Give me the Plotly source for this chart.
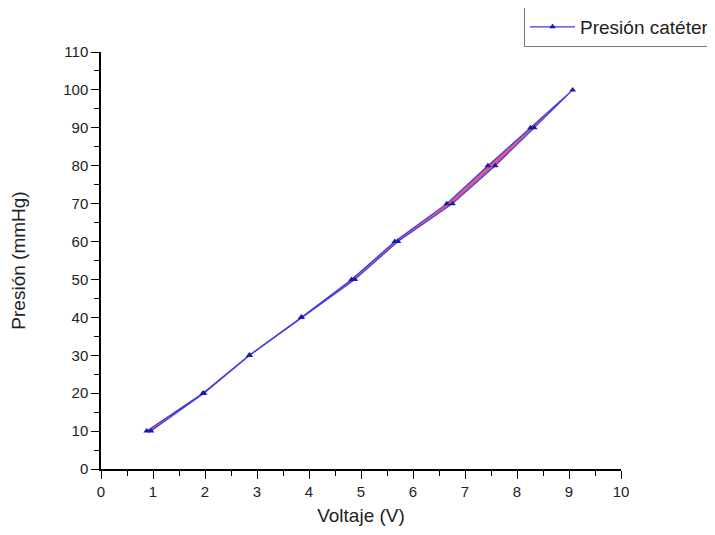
import plotly.graph_objects as go

# Data (loading / unloading path)
volt_up = [0.88, 1.96, 2.85, 3.85, 4.82, 5.65, 6.65, 7.44, 8.26, 9.07]
pres_up = [10, 20, 30, 40, 50, 60, 70, 80, 90, 100]
volt_down = [8.33, 7.58, 6.76, 5.71, 4.88, 3.86, 2.86, 1.98, 0.96]
pres_down = [90, 80, 70, 60, 50, 40, 30, 20, 10]

x_all = volt_up + volt_down
y_all = pres_up + pres_down

series_name = "Presión catéter"
x_title = "Voltaje (V)"
y_title = "Presión (mmHg)"

FONT = "Arial, 'Liberation Sans', sans-serif"

fig = go.Figure()

# red fill between the two paths
fig.add_trace(go.Scatter(
    x=x_all, y=y_all, mode="none", fill="toself",
    fillcolor="rgba(214,72,120,0.9)", showlegend=False, hoverinfo="skip",
))

# blue line with triangle markers
fig.add_trace(go.Scatter(
    x=x_all, y=y_all, mode="lines+markers", name=series_name,
    line=dict(color="rgb(60,60,225)", width=1.2),
    marker=dict(symbol="triangle-up", size=6, color="rgb(25,25,175)"),
))

axis_common = dict(
    showline=True, linecolor="black", linewidth=1.5,
    ticks="outside", ticklen=8, tickwidth=1.3, tickcolor="black",
    showgrid=False, zeroline=False, mirror=False,
    tickfont=dict(family=FONT, size=15, color="#222"),
)

fig.update_xaxes(
    range=[0, 10], dtick=1, tick0=0,
    minor=dict(dtick=0.5, ticklen=5, tickwidth=1.3, tickcolor="black", ticks="outside"),
    title=dict(text=x_title, font=dict(family=FONT, size=19, color="#222"), standoff=10),
    **axis_common,
)
fig.update_yaxes(
    range=[0, 110], dtick=10, tick0=0,
    minor=dict(dtick=5, ticklen=5, tickwidth=1.3, tickcolor="black", ticks="outside"),
    title=dict(text=y_title, font=dict(family=FONT, size=19, color="#222"), standoff=38),
    **axis_common,
)

# page body has an 8px margin, so the figure is laid out to land on the reference pixels
fig.update_layout(
    width=707, height=527,
    margin=dict(l=93, r=94, t=44, b=66, autoexpand=False),
    paper_bgcolor="white", plot_bgcolor="white",
    font=dict(family=FONT, color="#222"),
    legend=dict(
        x=0.8135, y=1.108, xanchor="left", yanchor="top",
        bordercolor="#777", borderwidth=1, bgcolor="white",
        font=dict(family=FONT, size=19, color="#222"),
        itemwidth=45,
        tracegroupgap=0,
    ),
)

fig.write_html("out.html")
